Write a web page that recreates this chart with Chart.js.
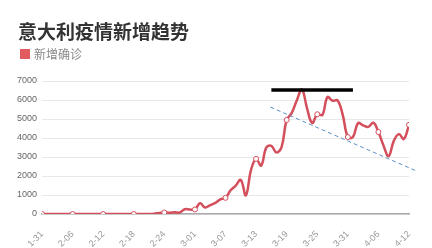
<!DOCTYPE html>
<html lang="zh">
<head>
    <meta charset="UTF-8">
    <title>意大利疫情新增趋势</title>
    <script src="https://cdn.jsdelivr.net/npm/chart.js"></script>
    <style>
        body { margin: 0; background: #fff; }
        .wrap { position: relative; width: 432px; height: 248px; }
        canvas { display: block; }
        .title {
            position: absolute; left: 18px; top: 21px;
            font: bold 19px/19px 'Noto Sans CJK SC', sans-serif; color: #333;
        }
        .legend {
            position: absolute; left: 20px; top: 48px;
            font: 12px/12px 'Noto Sans CJK SC', sans-serif; color: #888;
        }
        .legend i {
            display: inline-block; width: 10px; height: 10px; background: #e05a5f;
            vertical-align: top; margin: 1px 4px 0 0;
        }
    </style>
</head>
<body>
    <div class="wrap">
        <canvas id="trendChart" width="432" height="248"></canvas>
        <div class="title">意大利疫情新增趋势</div>
        <div class="legend"><i></i>新增确诊</div>
    </div>
    <script>
        // dates shown on the x axis (one per day)
        var dates = [
            '1-31',
            '2-01', '2-02', '2-03', '2-04', '2-05', '2-06', '2-07', '2-08', '2-09', '2-10',
            '2-11', '2-12', '2-13', '2-14', '2-15', '2-16', '2-17', '2-18', '2-19', '2-20',
            '2-21', '2-22', '2-23', '2-24', '2-25', '2-26', '2-27', '2-28', '2-29',
            '3-01', '3-02', '3-03', '3-04', '3-05', '3-06', '3-07', '3-08', '3-09', '3-10',
            '3-11', '3-12', '3-13', '3-14', '3-15', '3-16', '3-17', '3-18', '3-19', '3-20',
            '3-21', '3-22', '3-23', '3-24', '3-25', '3-26', '3-27', '3-28', '3-29', '3-30', '3-31',
            '4-01', '4-02', '4-03', '4-04', '4-05', '4-06', '4-07', '4-08', '4-09', '4-10',
            '4-11', '4-12'
        ];

        // new confirmed cases per day
        var newCases = [
            0,
            2, 0, 0, 0, 0, 0, 1, 0, 0, 0,
            0, 0, 0, 0, 0, 0, 0, 0, 0, 0,
            0, 17, 59, 78, 72, 93, 78, 250, 238,
            240, 566, 342, 466, 587, 769, 850, 1247, 1492, 1797,
            977, 2313, 2900, 2547, 3497, 3590, 3233, 3526, 4950, 5322,
            5986, 6557, 5560, 4789, 5249, 5210, 6153, 5959, 5974, 5217, 4050,
            4053, 4782, 4668, 4585, 4805, 4316, 3599, 3039, 3836, 4204,
            3951, 4694
        ];

        var yTicks = [0, 1000, 2000, 3000, 4000, 5000, 6000, 7000];

        // peak marker (black bar) and falling trend (blue dashed)
        var peakLine = [{ x: 45, y: 6530 }, { x: 61, y: 6530 }];
        var trendLine = [{ x: 44.8, y: 5630 }, { x: 73.4, y: 2270 }];

        var seriesPoints = newCases.map(function (v, i) { return { x: i, y: v }; });

        var ctx = document.getElementById('trendChart').getContext('2d');
        new Chart(ctx, {
            type: 'line',
            data: {
                datasets: [{
                    label: '新增确诊',
                    data: seriesPoints,
                    borderColor: '#d44f5c',
                    backgroundColor: '#e05a5f',
                    borderWidth: 2.5,
                    tension: 0.4,
                    pointRadius: function (c) { return c.dataIndex % 6 === 0 ? 2.5 : 0; },
                    pointBackgroundColor: '#fff',
                    pointBorderColor: '#d44f5c',
                    pointBorderWidth: 1,
                    order: 2
                }, {
                    label: 'peak',
                    data: peakLine,
                    borderColor: '#000',
                    borderWidth: 3.5,
                    pointRadius: 0,
                    tension: 0,
                    order: 1
                }, {
                    label: 'trend',
                    data: trendLine,
                    borderColor: '#5b8fc7',
                    borderWidth: 1,
                    borderDash: [4, 3],
                    pointRadius: 0,
                    tension: 0,
                    clip: false,
                    order: 1
                }]
            },
            options: {
                responsive: false,
                animation: false,
                layout: { padding: { left: 17, right: 23, top: 81, bottom: 0 } },
                plugins: {
                    tooltip: { enabled: false },
                    title: { display: false },
                    legend: { display: false }
                },
                scales: {
                    x: {
                        type: 'linear',
                        min: 0,
                        max: 72,
                        afterFit: function (axis) { axis.height = 34; },
                        grid: { display: false },
                        border: { color: '#aaa', width: 1.5 },
                        ticks: {
                            stepSize: 6,
                            minRotation: 45,
                            maxRotation: 45,
                            color: '#999',
                            font: { family: 'Liberation Sans', size: 9 },
                            padding: 7,
                            callback: function (v) { return dates[v]; }
                        }
                    },
                    y: {
                        min: 0,
                        max: 7000,
                        afterBuildTicks: function (axis) {
                            axis.ticks = yTicks.map(function (v) { return { value: v }; });
                        },
                        afterFit: function (axis) { axis.width = 25; },
                        grid: { color: '#e8e8e8', drawTicks: false },
                        border: { display: false },
                        ticks: {
                            color: '#666',
                            font: { family: 'Liberation Sans', size: 9 },
                            padding: 5,
                            callback: function (v) { return String(v); }
                        }
                    }
                }
            }
        });
    </script>
</body>
</html>
